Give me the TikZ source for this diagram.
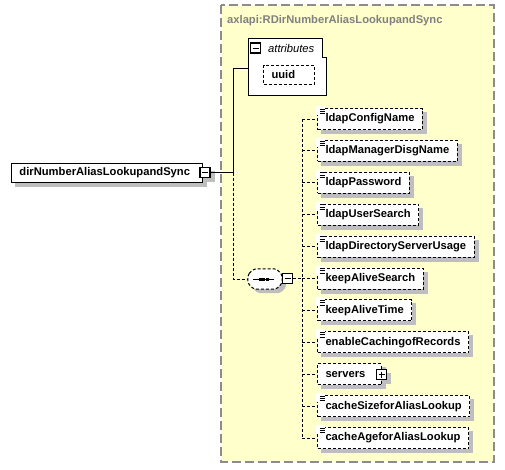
\documentclass[tikz,border=0pt]{standalone}
\usepackage{fontspec}
\setmainfont{Liberation Sans}
\usetikzlibrary{calc,backgrounds}
\definecolor{bg}{HTML}{FFFFCC}
\definecolor{frame}{HTML}{8C8C8C}
\definecolor{shgray}{HTML}{BEBEBE}
\definecolor{ttl}{HTML}{808080}
\tikzset{
  lbl/.style={font=\fontsize{11.2pt}{13pt}\selectfont\bfseries},
  elem/.style={rectangle, draw=black, line width=1pt, fill=white, minimum height=19pt,
               inner xsep=8pt, inner ysep=0pt, lbl},
  opt/.style={elem, dash pattern=on 3pt off 2pt, minimum height=21pt},
  icon/.style={rectangle, draw=black, line width=1.2pt, fill=white, minimum size=10pt, inner sep=0pt},
  minus/.style={icon, path picture={
      \draw[line width=1pt] ([xshift=2pt]path picture bounding box.west) -- ([xshift=-2pt]path picture bounding box.east);}},
  plus/.style={icon, path picture={
      \draw[line width=1pt] ([xshift=2pt]path picture bounding box.west) -- ([xshift=-2pt]path picture bounding box.east);
      \draw[line width=1pt] ([yshift=2pt]path picture bounding box.south) -- ([yshift=-2pt]path picture bounding box.north);}},
  ln/.style={draw=black, line width=1pt},
  dsh/.style={ln, dash pattern=on 3pt off 2pt},
  frm/.style={draw=frame, line width=1.2pt, dash pattern=on 9pt off 4pt, fill=bg},
}
% octagon round a node: #1 node, #2 chamfer, #3 offset
\newcommand{\octpath}[3]{($(#1.north west)+(0,#2)+(#3,#3)$) -- ($(#1.north west)+(#2,0)+(#3,#3)$) -- ($(#1.north east)+(-#2,0)+(#3,#3)$) --
  ($(#1.north east)+(0,#2)+(#3,#3)$) -- ($(#1.south east)+(0,-#2)+(#3,#3)$) -- ($(#1.south east)+(-#2,0)+(#3,#3)$) --
  ($(#1.south west)+(#2,0)+(#3,#3)$) -- ($(#1.south west)+(0,-#2)+(#3,#3)$) -- cycle}

\begin{document}
\begin{tikzpicture}[x=1pt,y=-1pt]
\useasboundingbox (0,0) rectangle (505,469);

% ---------------- type frame ----------------
\begin{scope}[on background layer]
  \draw[frm] (221,5) rectangle (494,462);
\end{scope}
\node[lbl, text=ttl, anchor=base west, inner sep=0pt] (tname) at (227,23) {axlapi:RDirNumberAliasLookupandSync};

% ---------------- attributes ----------------
\draw[ln, fill=white] (248,38) -- (322,38) -- (322,57) -- (326,57) -- (326,95) -- (248,95) -- cycle;
\coordinate (attrs) at (248,68);
\node[minus] (attrsx) at (255.5,48) {};
\node[font=\fontsize{11.2pt}{13pt}\selectfont\itshape, anchor=base west, inner sep=0pt] (attrsl) at (268,52) {attributes};
\node[opt, minimum height=19pt, anchor=west] (uuid) at (263,74.5) {uuid\hspace*{11pt}};

% ---------------- root element ----------------
\node[elem, anchor=west] (main) at (11,172.5) {dirNumberAliasLookupandSync\hspace*{4pt}};
\node[minus] (mainx) at (205,172.5) {};

% ---------------- sequence ----------------
\node[minimum width=34pt, minimum height=20pt, inner sep=0pt] (seq) at (265,279) {};
\fill[shgray, rounded corners=2pt] \octpath{seq}{6}{4};
\draw[dsh, fill=white, rounded corners=2pt] \octpath{seq}{6}{0};
\draw[line width=1pt] ($(seq.center)+(-12,0)$) -- ($(seq.center)+(9,0)$);
\foreach \d in {-5,-1.5,2}
  \fill ($(seq.center)+(\d,0)$) +(-1.5,-1.5) rectangle +(1.5,1.5);
\node[minus] (seqx) at (287.5,278.5) {};

% ---------------- children ----------------
\foreach \i/\nm in {1/ldapConfigName, 2/ldapManagerDisgName, 3/ldapPassword, 4/ldapUserSearch,
                    5/ldapDirectoryServerUsage, 6/keepAliveSearch, 7/keepAliveTime,
                    8/enableCachingofRecords, 9/{servers\hspace*{8pt}}, 10/cacheSizeforAliasLookup,
                    11/cacheAgeforAliasLookup}
  \node[opt, anchor=west] (c\i) at (317,{119+31.9*(\i-1)}) {\nm};
\node[plus] (c9x) at (381.5,374.5) {};
% simple-type marks
\foreach \i in {1,...,8,10,11} {
  \fill[white] ($(c\i.north west)+(-1,-2)$) rectangle +(9,9);
  \foreach \k in {0,1,2}
    \draw[line width=0.8pt] ($(c\i.north west)+(2.5,1+2.3*\k)$) -- +(5.5,0);
}

% shadows
\begin{scope}[on background layer]
  \foreach \n in {main,mainx,uuid,c1,c2,c3,c4,c5,c6,c7,c8,c9,c9x,c10,c11}
    \fill[shgray] ($(\n.north west)+(4,4)$) rectangle ($(\n.south east)+(4,4)$);
\end{scope}

% ---------------- connectors ----------------
\coordinate (j) at (233,172.5);
\coordinate (bus) at (302,278.5);
\draw[ln] (mainx.east) -- (j) -- (j |- attrs) -- (attrs);
\draw[dsh] (j) -- (j |- seq.west) -- (seq.west);
\draw[dsh] (seqx.east) -- (bus);
\draw[dsh] (bus |- c1.west) -- (bus |- c11.west);
\foreach \i in {1,...,11}
  \draw[dsh] (bus |- c\i.west) -- (c\i.west);
\end{tikzpicture}
\end{document}
